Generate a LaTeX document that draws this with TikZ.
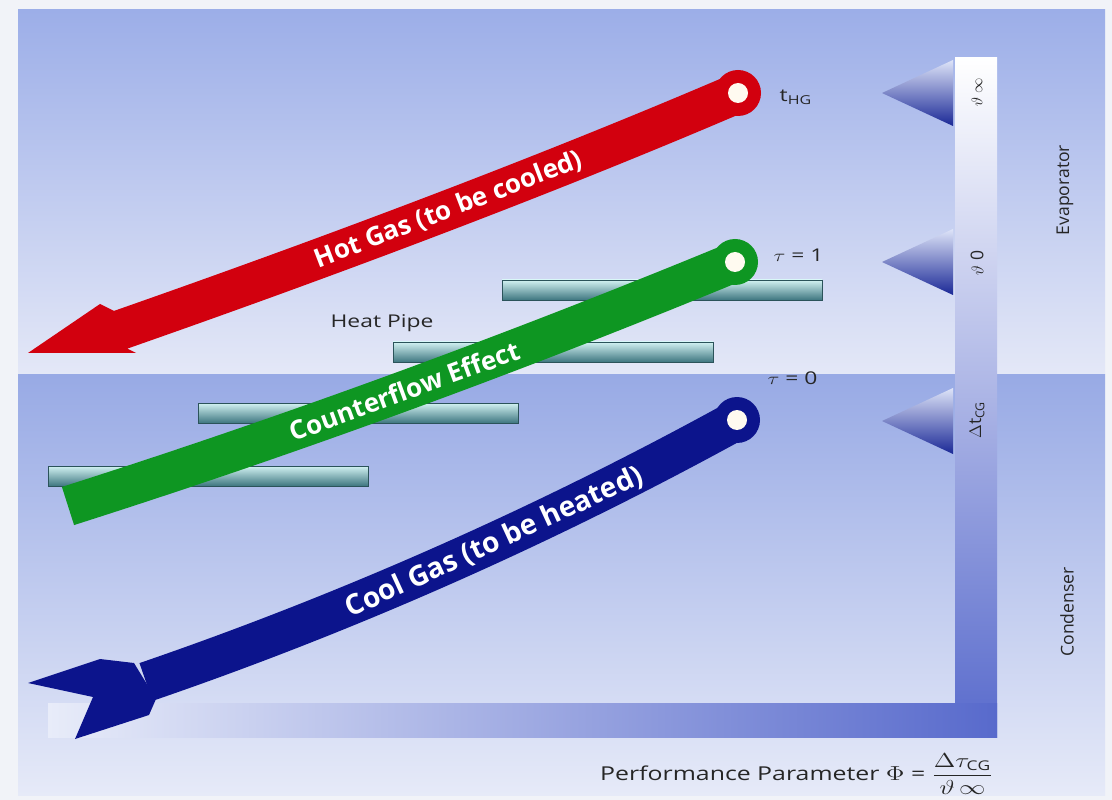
\documentclass[tikz,border=0pt]{standalone}
\usepackage{fontspec}
\setmainfont{Open Sans}
\usetikzlibrary{calc}

\definecolor{margin}{RGB}{241,243,248}
\definecolor{evaptop}{RGB}{156,174,232}
\definecolor{evapbot}{RGB}{228,232,247}
\definecolor{condtop}{RGB}{152,170,229}
\definecolor{condbot}{RGB}{230,234,248}
\definecolor{barblue}{RGB}{88,106,204}
\definecolor{barleft}{RGB}{232,236,249}
\definecolor{wedgetop}{RGB}{222,228,248}
\definecolor{wedgebot}{RGB}{26,40,150}
\definecolor{pipetop}{RGB}{210,242,242}
\definecolor{pipemid}{RGB}{160,214,216}
\definecolor{pipebot}{RGB}{62,118,128}
\definecolor{hotred}{RGB}{210,0,14}
\definecolor{flowgreen}{RGB}{14,150,34}
\definecolor{coolblue}{RGB}{12,20,140}
\definecolor{dotwhite}{RGB}{255,250,240}

\newcommand{\widetext}[1]{\scalebox{1.3}[1]{#1}}

\begin{document}
\begin{tikzpicture}[x=0.025cm,y=-0.025cm,
    band/.style={line width=1cm},
    bandtext/.style={text=white,font=\bfseries\fontsize{18.5}{18.5}\selectfont},
    lbl/.style={text=black!85,font=\fontsize{12.5}{13}\selectfont,inner sep=1pt},
    barlbl/.style={lbl,rotate=90},
    pipe/.style={top color=pipetop,middle color=pipemid,bottom color=pipebot,draw=pipebot!70!black,line width=0.3pt},
    wedge/.style={top color=wedgetop,bottom color=wedgebot}]

    \useasboundingbox (0,0) rectangle (1112,800);
    \fill [margin] (0,0) rectangle (1112,800);

    %%%%%%%%%%%%%%%%% evaporator / condenser
    \shade [top color=evaptop,bottom color=evapbot] (18,10) rectangle (1105,375);
    \shade [top color=condtop,bottom color=condbot] (18,375) rectangle (1105,795);

    %%%%%%%%%%%%%%%%% temperature scale
    \shade [top color=white,bottom color=barblue] (955,58) rectangle (997,737);
    \shade [left color=barleft,right color=barblue] (48,703) rectangle (997,737);

    \foreach \y in {93,262,421}
        \shade [wedge] (882,\y) -- (953,\y-33) -- (953,\y+33) -- cycle;

    %%%%%%%%%%%%%%%%% heat pipes
    \foreach \x/\y in {502/280,393/342,198/403,48/466}
        \shade [pipe] (\x,\y) rectangle ++(320,20);

    \node [lbl] (hp) at (382,323) {\widetext{Heat Pipe}};

    %%%%%%%%%%%%%%%%% hot gas
    \coordinate (HGtail) at (738,93);
    \coordinate (HGend) at (120,330);
    \draw [band,hotred] (HGtail) .. controls (540,178) and (320,260) .. (HGend)
        node [bandtext,sloped,pos=0.47] (hglbl) {Hot Gas (to be cooled)};
    \fill [hotred] (28,353) -- (100,304) -- (114,311) -- (128,349) -- (136,353) -- cycle;
    \fill [hotred] (HGtail) circle (23);
    \fill [dotwhite] (HGtail) circle (10);

    %%%%%%%%%%%%%%%%% counterflow
    \coordinate (CFtail) at (735,262);
    \coordinate (CFend) at (68,506);
    \draw [band,flowgreen] (CFtail) .. controls (517,352) and (294,434) .. (CFend)
        node [bandtext,sloped,pos=0.5] (cflbl) {Counterflow Effect};
    \fill [flowgreen] (CFtail) circle (23);
    \fill [dotwhite] (CFtail) circle (10);

    %%%%%%%%%%%%%%%%% cool gas
    \coordinate (CGtail) at (737,420);
    \coordinate (CGend) at (146,682);
    \draw [band,coolblue] (CGtail) .. controls (548,524) and (350,612) .. (CGend)
        node [bandtext,font=\bfseries\fontsize{20}{20}\selectfont,sloped,pos=0.42] (cglbl) {Cool Gas (to be heated)};
    \fill [coolblue] (28,683) -- (100,659) -- (134,663) -- (156,699) -- (149,715) -- (75,739) -- (93,697) -- cycle;
    \fill [coolblue] (CGtail) circle (23);
    \fill [dotwhite] (CGtail) circle (10);

    %%%%%%%%%%%%%%%%% labels
    \node [lbl,anchor=west] (thg) at (778,97) {\widetext{t\textsubscript{HG}}};
    \node [lbl,anchor=west] (tau1) at (772,255) {\widetext{$\tau$ = 1}};
    \node [lbl,anchor=west] (tau0) at (766,378) {\widetext{$\tau$ = 0}};

    \node [barlbl,font=\fontsize{11}{11}\selectfont] (thinf) at (977,92) {$\vartheta$ $\infty$};
    \node [barlbl] (thzero) at (977,263) {$\vartheta$ 0};
    \node [barlbl] (dtcg) at (977,420) {$\Delta$t\textsubscript{CG}};
    \node [barlbl] (evap) at (1065,190) {Evaporator};
    \node [barlbl] (cond) at (1067,612) {Condenser};

    \node [lbl,anchor=east,font=\fontsize{13.6}{14}\selectfont] (perf) at (995,774)
        {\widetext{Performance Parameter $\Phi$ = $\displaystyle\frac{\Delta\tau_{\mathrm{CG}}}{\vartheta\,\infty}$}};
\end{tikzpicture}
\end{document}
